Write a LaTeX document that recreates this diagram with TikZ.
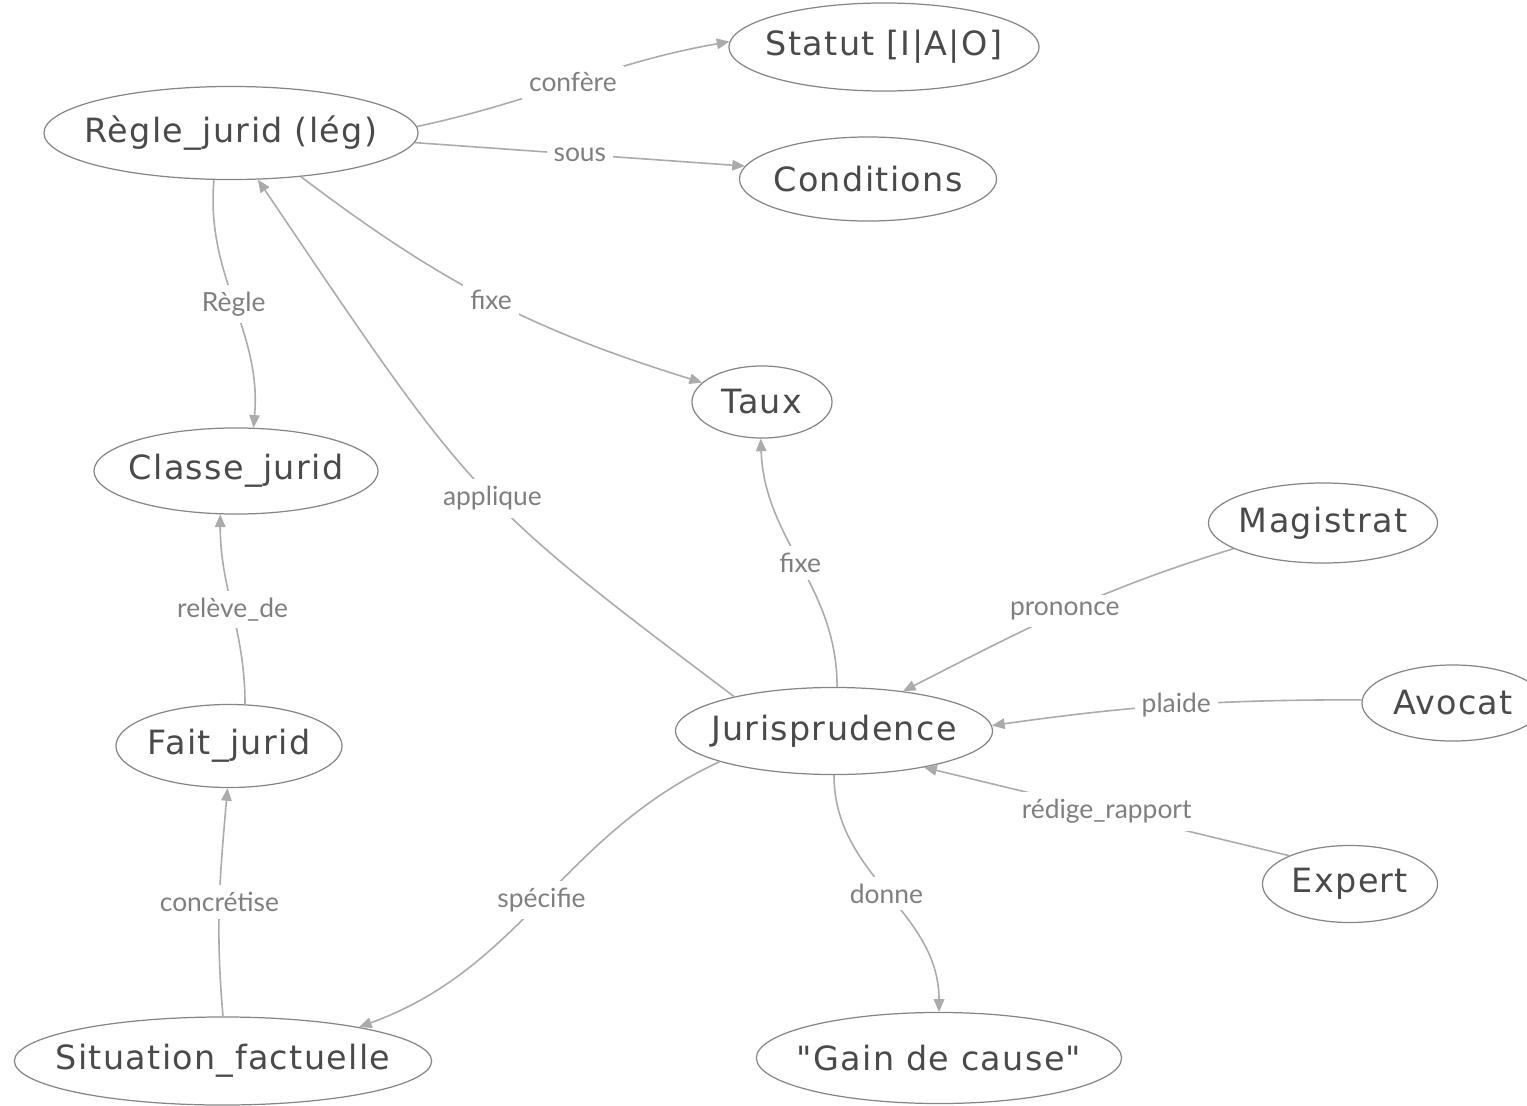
\documentclass[tikz,border=0pt]{standalone}
\usepackage{fontspec}
\setmainfont{DejaVu Sans}
\newfontfamily\conceptfont[LetterSpace=4]{DejaVu Sans}
\newfontfamily\relfont{Lato}
\usetikzlibrary{shapes.geometric,arrows.meta}

\definecolor{conceptline}{HTML}{858585}
\definecolor{concepttext}{HTML}{4A4A4A}
\definecolor{relline}{HTML}{ABABAB}
\definecolor{reltext}{HTML}{7F7F7F}

% centred text that does not widen the ellipse
\newcommand{\ctext}[1]{\makebox[0pt]{#1}}

\begin{document}
\begin{tikzpicture}[x=0.01cm,y=0.01cm,
    concept/.style={ellipse, draw=conceptline, line width=0.35pt, inner sep=0pt,
        text=concepttext, font=\conceptfont\fontsize{9.5}{11}\selectfont},
    rel/.style={draw=relline, line width=0.45pt, -{Triangle[length=3.6pt,width=3pt]}},
    rellabel/.style={fill=white, inner sep=2pt, text=reltext,
        font=\relfont\fontsize{7.5}{9}\selectfont}]
    \useasboundingbox (0,0) rectangle (1527,-1106);

    % concepts
    \node[concept, minimum width=3.10cm, minimum height=0.88cm] (statut) at (884,-47) {\ctext{Statut [I|A|O]}};
    \node[concept, minimum width=3.74cm, minimum height=0.93cm] (regle) at (231,-133) {\ctext{Règle\_jurid (lég)}};
    \node[concept, minimum width=2.57cm, minimum height=0.84cm] (cond) at (868,-179) {\ctext{Conditions}};
    \node[concept, minimum width=1.40cm, minimum height=0.72cm] (taux) at (762,-402) {\ctext{Taux}};
    \node[concept, minimum width=2.84cm, minimum height=0.86cm] (classe) at (236,-471) {\ctext{Classe\_jurid}};
    \node[concept, minimum width=2.29cm, minimum height=0.80cm] (magis) at (1323,-523) {\ctext{Magistrat}};
    \node[concept, minimum width=1.82cm, minimum height=0.76cm] (avocat) at (1453,-703) {\ctext{Avocat}};
    \node[concept, minimum width=3.17cm, minimum height=0.87cm] (juris) at (834,-731) {\ctext{Jurisprudence}};
    \node[concept, minimum width=2.26cm, minimum height=0.83cm] (fait) at (229,-746) {\ctext{Fait\_jurid}};
    \node[concept, minimum width=1.75cm, minimum height=0.77cm] (expert) at (1350,-884) {\ctext{Expert}};
    \node[concept, minimum width=4.17cm, minimum height=0.88cm] (situation) at (223,-1061) {\ctext{Situation\_factuelle}};
    \node[concept, minimum width=3.65cm, minimum height=0.91cm] (gain) at (939,-1058) {\ctext{"Gain de cause"}};

    % relations
    \draw[rel] (regle.2) to[out=12,in=190] node[rellabel]{confère} (statut.178);
    \draw[rel] (regle.-3) -- node[rellabel]{sous} (cond.174);
    \draw[rel] (regle.-32) to[bend right=10] node[rellabel]{fixe} (taux.162);
    \draw[rel] (regle.250) to[out=265,in=85] node[rellabel]{Règle} (classe.68);
    \draw[rel] (juris.161) to[out=143,in=-56,out looseness=1.2,in looseness=1.4] node[rellabel,pos=0.46]{applique} (regle.-60);
    \draw[rel] (juris.86) to[out=90,in=-88] node[rellabel]{fixe} (taux.-92);
    \draw[rel] (magis.196) to[out=197,in=27] node[rellabel]{prononce} (juris.30);
    \draw[rel] (avocat.178) to[out=180,in=8] node[rellabel]{plaide} (juris.2);
    \draw[rel] (expert.155) -- node[rellabel]{rédige\_rapport} (juris.-22);
    \draw[rel] (juris.195) to[out=205,in=20] node[rellabel]{spécifie} (situation.14);
    \draw[rel] (juris.-90) to[out=-90,in=90] node[rellabel]{donne} (gain.90);
    \draw[rel] (fait.69) to[out=90,in=-90] node[rellabel]{relève\_de} (classe.-110);
    \draw[rel] (situation.90) to[out=95,in=-95] node[rellabel]{concrétise} (fait.-92);
\end{tikzpicture}
\end{document}
